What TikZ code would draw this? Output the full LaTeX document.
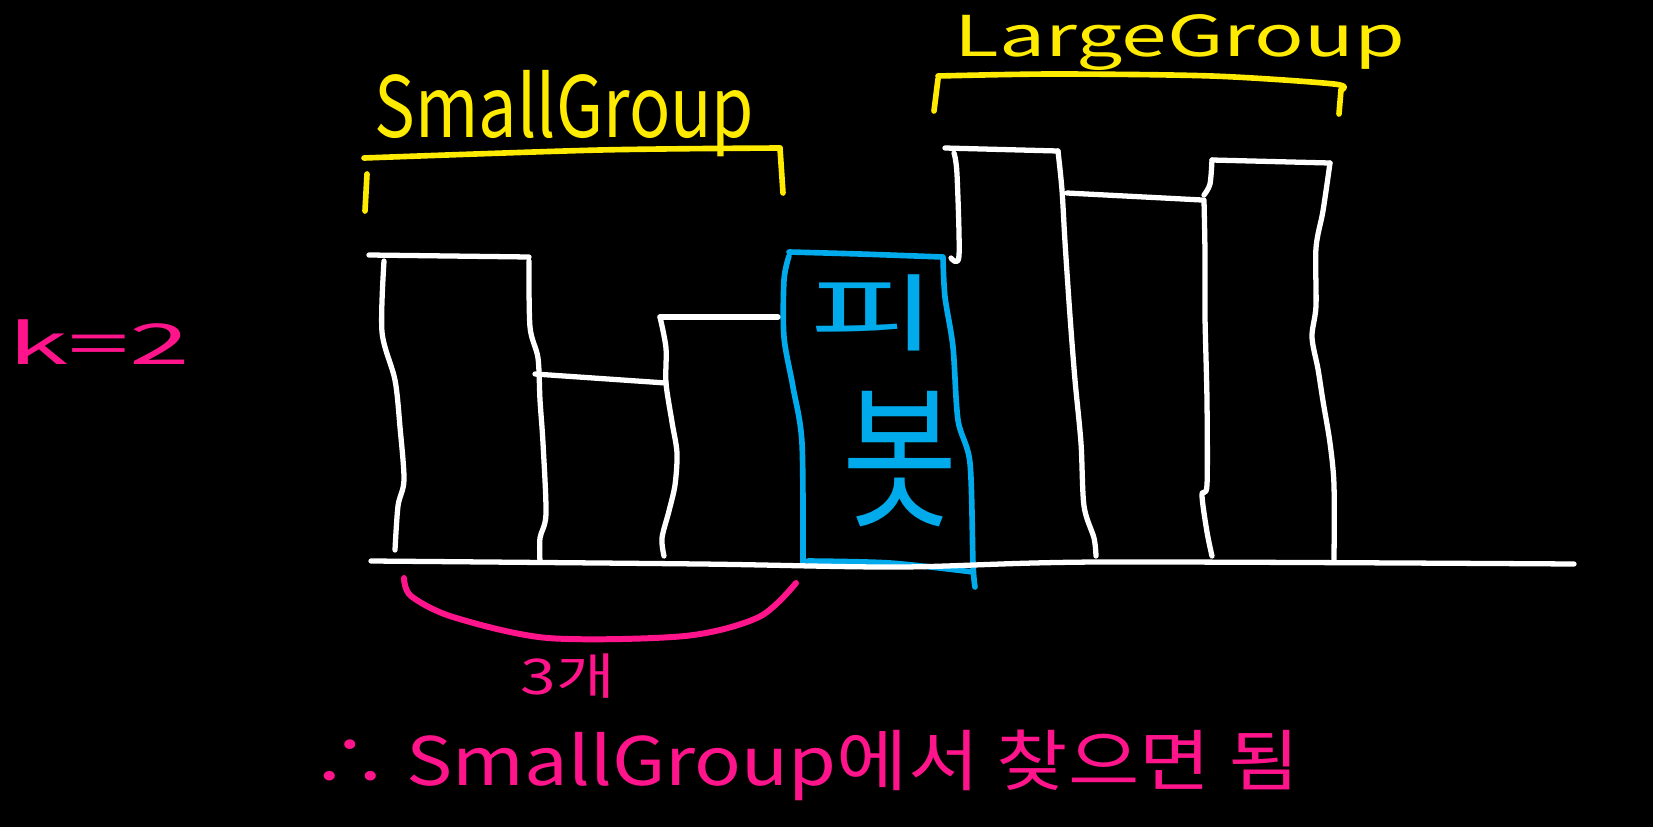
\documentclass[tikz,border=0pt]{standalone}
\usepackage{fontspec}
\setmainfont{Noto Sans CJK KR}
\definecolor{hyellow}{RGB}{255,235,0}
\definecolor{hpink}{RGB}{255,20,140}
\definecolor{hblue}{RGB}{0,170,235}
\begin{document}
\begin{tikzpicture}[x=0.01cm,y=-0.01cm, line cap=round, line join=round,
  wl/.style={draw=white, line width=1.5pt},
  yl/.style={draw=hyellow, line width=1.6pt},
  bl/.style={draw=hblue, line width=1.6pt},
  pl/.style={draw=hpink, line width=1.7pt},
  txt/.style={inner sep=0pt, anchor=base west}]
\fill[black] (0,0) rectangle (1653,827);
\useasboundingbox (0,0) rectangle (1653,827);

% pivot (blue)
\draw[bl] plot[smooth] coordinates {(789,252) (860,254) (943,257)};
\draw[bl] plot[smooth] coordinates {(789,256) (784,280) (784,337) (793,387) (802,443) (803,563)};
\draw[bl] plot[smooth] coordinates {(943,258) (945,297) (953,347) (958,420) (970,463) (973,563) (975,587)};
\draw[bl] plot[smooth] coordinates {(808,561) (890,563) (973,572)};
\node[inner sep=0pt, text=hblue] (pi) at (874,313) {\scalebox{1.65}[1]{\fontsize{24}{24}\selectfont 피}};
\node[inner sep=0pt, text=hblue] (bot) at (900,459) {\scalebox{0.81}[1]{\fontsize{44}{44}\selectfont 봇}};

% small group bars
\draw[wl] (369,255) -- (529,257);
\draw[wl] plot[smooth] coordinates {(384,261) (382,332) (395,380) (400,427) (404,480) (398,506) (395,550)};
\draw[wl] plot[smooth] coordinates {(529,261) (530,327) (538,358) (540,400) (543,443) (546,514) (540,538) (540,562)};
\draw[wl] (535,374) -- (666,383);
\draw[wl] plot[smooth] coordinates {(660,317) (666,348) (666,383) (672,422) (677,453) (675,485) (669,511) (662,538) (664,556)};
\draw[wl] (660,317) -- (778,317);

% large group bars
\draw[wl] (945,148) -- (1058,151);
\draw[wl] plot[smooth] coordinates {(954,153) (957,174) (959,256) (951,258)};
\draw[wl] plot[smooth] coordinates {(1058,151) (1062,190) (1065,242) (1070,316) (1075,380) (1081,443) (1084,506) (1094,538) (1096,556)};
\draw[wl] (1067,193) -- (1202,200);
\draw[wl] plot[smooth] coordinates {(1204,200) (1205,253) (1205,316) (1207,401) (1207,485) (1202,495) (1207,532) (1212,556)};
\draw[wl] (1212,160) -- (1330,163);
\draw[wl] plot[smooth] coordinates {(1212,160) (1210,184) (1204,195)};
\draw[wl] plot[smooth] coordinates {(1330,163) (1323,211) (1316,248) (1316,306) (1312,337) (1318,369) (1323,401) (1330,443) (1334,485) (1334,562)};

% baseline
\draw[wl] plot[smooth] coordinates {(371,561) (700,564) (900,567) (1100,562) (1574,564)};

% yellow brackets and labels
\draw[yl] plot[smooth] coordinates {(364,158) (600,150) (780,148)};
\draw[yl] (367,174) -- (365,211);
\draw[yl] (780,148) -- (783,193);
\node[txt, text=hyellow] (small) at (374,137) {\scalebox{0.81}[1]{\fontsize{24}{24}\selectfont SmallGroup}};
\draw[yl] plot[smooth] coordinates {(938,76) (1054,74) (1212,76) (1334,84) (1341,90)};
\draw[yl] (938,79) -- (934,111);
\draw[yl] (1341,90) -- (1339,114);
\node[txt, text=hyellow] (large) at (954,56) {\scalebox{1.46}[1]{\fontsize{16}{16}\selectfont LargeGroup}};

% pink
\node[txt, text=hpink] (k) at (8,364) {\scalebox{1.94}[1]{\fontsize{16}{16}\selectfont k=2}};
\draw[pl] plot[smooth] coordinates {(404,578) (411,596) (453,617) (548,638) (685,636) (759,617) (796,583)};
\node[txt, text=hpink] (three) at (520,694) {\scalebox{1.3}[1]{\fontsize{14}{14}\selectfont 3개}};
\node[txt, text=hpink] (concl) at (311,785) {\scalebox{1.16}[1]{\fontsize{19}{19}\selectfont ∴ SmallGroup에서 찾으면 됨}};
\end{tikzpicture}
\end{document}
